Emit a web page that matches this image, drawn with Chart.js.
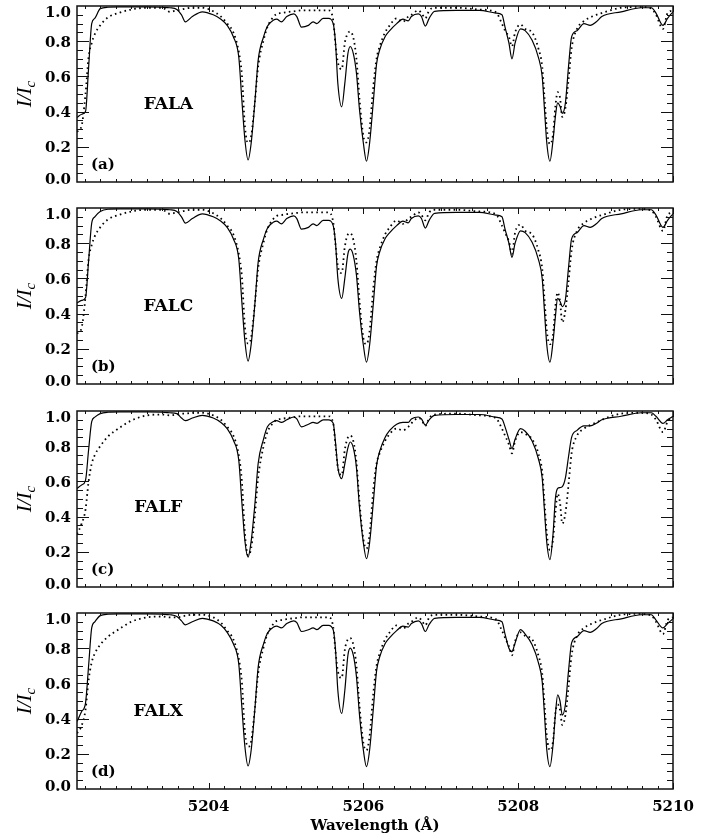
<!DOCTYPE html>
<html><head><meta charset="utf-8">
<script src="https://cdn.jsdelivr.net/npm/chart.js@4.4.0/dist/chart.umd.min.js"></script>
<style>
html,body{margin:0;padding:0;background:#fff;}
body{width:718px;height:838px;position:relative;overflow:hidden;}
canvas{position:absolute;left:0;}
</style></head><body>
<canvas id="p0"></canvas><canvas id="p1"></canvas><canvas id="p2"></canvas><canvas id="p3"></canvas>
<script>
// ---------- data ----------
const wavelength = [5202.30,5202.36,5202.41,5202.45,5202.49,5202.53,5202.60,5202.70,5202.85,5203.00,
5203.20,5203.40,5203.50,5203.59,5203.65,5203.70,5203.79,5203.92,5204.06,5204.16,
5204.24,5204.32,5204.39,5204.43,5204.47,5204.51,5204.55,5204.60,5204.64,5204.71,
5204.76,5204.84,5204.88,5204.94,5205.01,5205.10,5205.14,5205.20,5205.29,5205.35,
5205.40,5205.48,5205.55,5205.61,5205.64,5205.67,5205.72,5205.76,5205.80,5205.83,
5205.87,5205.91,5205.95,5206.00,5206.04,5206.08,5206.13,5206.17,5206.21,5206.28,
5206.34,5206.43,5206.51,5206.58,5206.62,5206.71,5206.75,5206.80,5206.85,5206.92,
5207.20,5207.50,5207.71,5207.79,5207.83,5207.88,5207.92,5207.96,5208.03,5208.09,
5208.18,5208.26,5208.31,5208.34,5208.37,5208.41,5208.45,5208.48,5208.51,5208.54,
5208.57,5208.61,5208.65,5208.69,5208.76,5208.85,5208.93,5209.01,5209.08,5209.33,
5209.59,5209.72,5209.78,5209.87,5209.93,5210.00];

const falaSolid = [0.366,0.385,0.40,0.65,0.90,0.93,0.985,0.993,0.995,0.995,
0.995,0.993,0.99,0.98,0.95,0.91,0.94,0.967,0.95,0.925,
0.89,0.825,0.71,0.465,0.237,0.125,0.22,0.465,0.69,0.825,
0.885,0.92,0.925,0.91,0.94,0.955,0.94,0.88,0.89,0.91,
0.90,0.93,0.93,0.90,0.79,0.56,0.427,0.56,0.73,0.77,
0.73,0.62,0.41,0.22,0.118,0.22,0.465,0.67,0.75,0.825,
0.86,0.90,0.925,0.916,0.94,0.955,0.94,0.886,0.93,0.97,
0.975,0.975,0.96,0.95,0.88,0.79,0.70,0.79,0.87,0.86,
0.805,0.71,0.60,0.41,0.22,0.118,0.237,0.37,0.45,0.43,
0.39,0.45,0.655,0.825,0.86,0.90,0.89,0.91,0.94,0.967,
0.99,0.99,0.96,0.89,0.93,0.967];
const falaDotted = [0.285,0.32,0.50,0.71,0.79,0.84,0.89,0.935,0.962,0.98,
0.99,0.99,0.967,0.975,0.98,0.985,0.99,0.99,0.97,0.94,
0.90,0.85,0.74,0.61,0.313,0.222,0.26,0.465,0.655,0.805,
0.88,0.94,0.955,0.96,0.965,0.97,0.972,0.975,0.975,0.975,
0.975,0.975,0.975,0.92,0.78,0.68,0.64,0.79,0.845,0.855,
0.82,0.70,0.47,0.26,0.225,0.30,0.55,0.70,0.77,0.85,
0.89,0.93,0.91,0.94,0.95,0.975,0.96,0.93,0.975,0.99,
0.99,0.98,0.965,0.90,0.86,0.825,0.77,0.85,0.895,0.87,
0.85,0.76,0.655,0.48,0.30,0.215,0.27,0.427,0.51,0.48,
0.37,0.42,0.58,0.76,0.87,0.915,0.935,0.95,0.96,0.99,
0.995,0.985,0.95,0.87,0.96,0.975];

const falcSolid = [0.46,0.475,0.49,0.70,0.914,0.95,0.98,0.993,0.995,0.995,
0.995,0.993,0.99,0.98,0.95,0.914,0.94,0.967,0.95,0.925,
0.89,0.825,0.71,0.465,0.24,0.13,0.225,0.465,0.69,0.825,
0.885,0.92,0.925,0.91,0.94,0.955,0.94,0.88,0.89,0.91,
0.90,0.93,0.93,0.90,0.80,0.60,0.486,0.60,0.74,0.766,
0.73,0.62,0.41,0.22,0.124,0.22,0.465,0.67,0.75,0.825,
0.86,0.90,0.925,0.916,0.94,0.955,0.94,0.886,0.93,0.97,
0.975,0.975,0.96,0.95,0.88,0.80,0.72,0.80,0.87,0.86,
0.805,0.71,0.60,0.41,0.22,0.124,0.24,0.38,0.486,0.47,
0.44,0.48,0.66,0.825,0.86,0.90,0.89,0.91,0.94,0.967,
0.99,0.99,0.96,0.89,0.93,0.967];
const falcDotted = [0.286,0.32,0.50,0.71,0.79,0.84,0.89,0.935,0.962,0.98,
0.99,0.99,0.967,0.975,0.98,0.985,0.99,0.99,0.97,0.94,
0.90,0.85,0.74,0.61,0.32,0.229,0.265,0.465,0.655,0.805,
0.88,0.94,0.955,0.96,0.965,0.97,0.972,0.975,0.975,0.975,
0.975,0.975,0.975,0.92,0.79,0.67,0.63,0.78,0.85,0.857,
0.82,0.70,0.47,0.26,0.226,0.30,0.55,0.70,0.77,0.85,
0.89,0.93,0.91,0.94,0.95,0.975,0.96,0.93,0.975,0.99,
0.99,0.98,0.965,0.90,0.86,0.81,0.74,0.86,0.905,0.87,
0.85,0.76,0.655,0.48,0.30,0.226,0.28,0.44,0.52,0.47,
0.35,0.42,0.58,0.76,0.87,0.915,0.935,0.95,0.96,0.99,
0.995,0.985,0.95,0.87,0.96,0.975];

const falfSolid = [0.56,0.58,0.606,0.78,0.94,0.965,0.985,0.993,0.995,0.995,
0.995,0.993,0.99,0.985,0.96,0.945,0.96,0.975,0.96,0.935,
0.90,0.835,0.72,0.48,0.26,0.17,0.26,0.48,0.70,0.84,
0.91,0.94,0.945,0.935,0.95,0.966,0.955,0.91,0.925,0.935,
0.93,0.95,0.95,0.93,0.82,0.68,0.616,0.70,0.79,0.824,
0.79,0.68,0.45,0.25,0.161,0.25,0.49,0.69,0.77,0.85,
0.89,0.925,0.935,0.935,0.955,0.966,0.955,0.92,0.95,0.975,
0.98,0.98,0.965,0.955,0.91,0.84,0.786,0.84,0.90,0.885,
0.83,0.73,0.62,0.43,0.25,0.156,0.30,0.50,0.56,0.565,
0.57,0.62,0.74,0.85,0.89,0.915,0.915,0.93,0.95,0.97,
0.99,0.99,0.97,0.93,0.95,0.97];
const falfDotted = [0.30,0.36,0.44,0.60,0.70,0.75,0.80,0.855,0.905,0.945,
0.975,0.98,0.975,0.98,0.985,0.985,0.99,0.99,0.975,0.95,
0.91,0.86,0.75,0.60,0.30,0.18,0.22,0.42,0.62,0.80,
0.88,0.935,0.95,0.955,0.96,0.965,0.968,0.97,0.97,0.97,
0.97,0.97,0.97,0.93,0.80,0.68,0.635,0.78,0.85,0.86,
0.83,0.71,0.48,0.27,0.218,0.30,0.56,0.70,0.76,0.83,
0.87,0.90,0.89,0.91,0.93,0.96,0.95,0.915,0.96,0.98,
0.985,0.975,0.96,0.90,0.86,0.81,0.76,0.83,0.88,0.87,
0.84,0.76,0.655,0.48,0.30,0.21,0.27,0.42,0.53,0.48,
0.36,0.42,0.58,0.76,0.86,0.90,0.92,0.935,0.95,0.985,
0.99,0.98,0.95,0.88,0.94,0.97];

const falxSolid = [0.383,0.44,0.488,0.70,0.915,0.95,0.985,0.993,0.995,0.995,
0.995,0.993,0.99,0.98,0.955,0.933,0.95,0.97,0.955,0.93,
0.89,0.825,0.71,0.465,0.237,0.131,0.22,0.465,0.69,0.825,
0.885,0.92,0.925,0.915,0.94,0.955,0.945,0.895,0.905,0.915,
0.905,0.93,0.93,0.905,0.79,0.56,0.43,0.56,0.76,0.80,
0.76,0.64,0.42,0.22,0.127,0.22,0.465,0.67,0.75,0.825,
0.86,0.90,0.925,0.92,0.94,0.955,0.94,0.895,0.935,0.97,
0.975,0.975,0.96,0.95,0.88,0.80,0.78,0.83,0.905,0.88,
0.82,0.72,0.61,0.42,0.22,0.127,0.25,0.42,0.535,0.50,
0.42,0.48,0.67,0.83,0.865,0.90,0.89,0.91,0.94,0.967,
0.99,0.99,0.96,0.915,0.94,0.967];
const falxDotted = [0.317,0.36,0.45,0.62,0.72,0.77,0.82,0.865,0.91,0.95,
0.975,0.98,0.975,0.975,0.98,0.985,0.99,0.99,0.975,0.945,
0.90,0.85,0.74,0.61,0.32,0.24,0.27,0.465,0.655,0.805,
0.88,0.94,0.955,0.96,0.965,0.97,0.972,0.975,0.975,0.975,
0.975,0.975,0.975,0.92,0.78,0.67,0.63,0.79,0.85,0.857,
0.82,0.70,0.47,0.26,0.22,0.30,0.55,0.70,0.77,0.85,
0.89,0.93,0.91,0.94,0.95,0.975,0.96,0.93,0.975,0.99,
0.99,0.98,0.965,0.90,0.86,0.81,0.76,0.84,0.89,0.87,
0.85,0.76,0.655,0.48,0.30,0.22,0.27,0.43,0.48,0.45,
0.364,0.42,0.58,0.76,0.87,0.915,0.935,0.95,0.96,0.99,
0.995,0.985,0.95,0.88,0.96,0.975];

const panelNames = ['FALA','FALC','FALF','FALX'];
const panelTags = ['(a)','(b)','(c)','(d)'];
const xTickValues = [5204,5206,5208,5210];
const yTickValues = [0,0.2,0.4,0.6,0.8,1.0];
const yTickLabels = ['0.0','0.2','0.4','0.6','0.8','1.0'];
const xAxisTitle = 'Wavelength (\u00C5)';
const xRange = [5202.3, 5210];

const solidSeries = [falaSolid, falcSolid, falfSolid, falxSolid];
const dottedSeries = [falaDotted, falcDotted, falfDotted, falxDotted];

// ---------- layout (pixels / styles) ----------
const LAYOUT = [
  {top:0,   height:188, nameX:5203.48, nameY:0.44},
  {top:202, height:188, nameX:5203.48, nameY:0.44},
  {top:405, height:188, nameX:5203.35, nameY:0.45},
  {top:607, height:231, nameX:5203.35, nameY:0.44}
];
const TICK_FONT = 'bold 15px "DejaVu Serif"';

function framePlugin(i){
  return {
    id:'frame'+i,
    afterDraw(chart){
      const {ctx, chartArea:a, scales:{x, y}} = chart;
      ctx.save();
      ctx.strokeStyle = '#111';
      ctx.lineWidth = 1.5;
      ctx.strokeRect(a.left, a.top, a.right - a.left, a.bottom - a.top);
      ctx.lineWidth = 1;
      ctx.beginPath();
      for (let k = 1; k * 0.2 + 5202.2 <= xRange[1] + 1e-6; k++) {
        const v = 5202.2 + k * 0.2;
        if (v < xRange[0]) continue;
        const px = Math.round(x.getPixelForValue(v)) + 0.5;
        const major = Math.abs(v / 2 - Math.round(v / 2)) < 1e-6;
        const len = major ? 6 : 3;
        ctx.moveTo(px, a.bottom); ctx.lineTo(px, a.bottom - len);
        ctx.moveTo(px, a.top); ctx.lineTo(px, a.top + len);
      }
      for (let k = 1; k < 20; k++) {
        const v = k * 0.05;
        const py = Math.round(y.getPixelForValue(v)) + 0.5;
        const len = (k % 4 === 0) ? 12 : 6;
        ctx.moveTo(a.left, py); ctx.lineTo(a.left + len, py);
        ctx.moveTo(a.right, py); ctx.lineTo(a.right - len, py);
      }
      ctx.stroke();
      ctx.fillStyle = '#000';
      ctx.font = TICK_FONT;
      ctx.textAlign = 'right';
      ctx.textBaseline = 'middle';
      yTickValues.forEach((v, k) => {
        let off = 1.5;
        if (v === 1) off = 7;
        if (v === 0) off = -2;
        ctx.fillText(yTickLabels[k], a.left - 6, y.getPixelForValue(v) + off);
      });
      const cy = (a.top + a.bottom) / 2;
      ctx.save();
      ctx.translate(24, cy);
      ctx.rotate(-Math.PI / 2);
      ctx.font = 'italic 21px "Liberation Serif"';
      const main = 'I/I';
      const w1 = ctx.measureText(main).width;
      ctx.font = 'italic 15px "Liberation Serif"';
      const w2 = ctx.measureText('c').width;
      const start = -(w1 + w2) / 2;
      ctx.textAlign = 'left';
      ctx.textBaseline = 'alphabetic';
      ctx.font = 'italic 21px "Liberation Serif"';
      ctx.fillText(main, start, 7);
      ctx.font = 'italic 15px "Liberation Serif"';
      ctx.fillText('c', start + w1, 11);
      ctx.restore();
      ctx.font = 'bold 17px "DejaVu Serif"';
      ctx.textAlign = 'center';
      ctx.textBaseline = 'middle';
      ctx.fillText(panelNames[i], x.getPixelForValue(LAYOUT[i].nameX), y.getPixelForValue(LAYOUT[i].nameY));
      ctx.font = 'bold 15px "DejaVu Serif"';
      ctx.textAlign = 'left';
      ctx.fillText(panelTags[i], a.left + 14, a.bottom - 17);
      ctx.restore();
    }
  };
}

function makeChart(i){
  const cv = document.getElementById('p' + i);
  const L = LAYOUT[i];
  cv.width = 718; cv.height = L.height;
  cv.style.top = L.top + 'px';
  cv.style.width = '718px'; cv.style.height = L.height + 'px';
  const last = i === 3;
  new Chart(cv.getContext('2d'), {
    type: 'line',
    data: {
      datasets: [
        {data: wavelength.map((w, k) => ({x: w, y: solidSeries[i][k]})),
         borderColor: '#000', borderWidth: 1.2, pointRadius: 0,
         cubicInterpolationMode: 'monotone', fill: false},
        {data: wavelength.map((w, k) => ({x: w, y: dottedSeries[i][k]})),
         borderColor: '#000', borderWidth: 1.8, borderDash: [1.6, 3.4], pointRadius: 0,
         cubicInterpolationMode: 'monotone', fill: false}
      ]
    },
    options: {
      responsive: false, animation: false, devicePixelRatio: 1,
      layout: {padding: {top: 6, right: 45, left: 0, bottom: 0}},
      plugins: {legend: {display: false}, tooltip: {enabled: false}},
      scales: {
        x: {
          type: 'linear', min: xRange[0], max: xRange[1], position: 'bottom',
          grid: {display: false, drawTicks: false}, border: {display: false},
          afterBuildTicks: s => { s.ticks = xTickValues.map(v => ({value: v})); },
          ticks: {display: last, padding: 9, maxRotation: 0, autoSkip: false, color: '#000',
                  font: {family: 'DejaVu Serif', weight: 'bold', size: 15},
                  callback: v => String(v)},
          title: {display: last, text: xAxisTitle, color: '#000',
                  font: {family: 'DejaVu Serif', weight: 'bold', size: 15},
                  padding: {top: 0, bottom: 3}},
          afterFit: s => { s.height = last ? 49 : 6; }
        },
        y: {
          type: 'linear', min: 0, max: 1, position: 'left',
          grid: {display: false, drawTicks: false}, border: {display: false},
          afterBuildTicks: s => { s.ticks = yTickValues.map(v => ({value: v})); },
          ticks: {display: false},
          afterFit: s => { s.width = 77; }
        }
      }
    },
    plugins: [framePlugin(i)]
  });
}
for (let i = 0; i < 4; i++) makeChart(i);
</script>
</body></html>
